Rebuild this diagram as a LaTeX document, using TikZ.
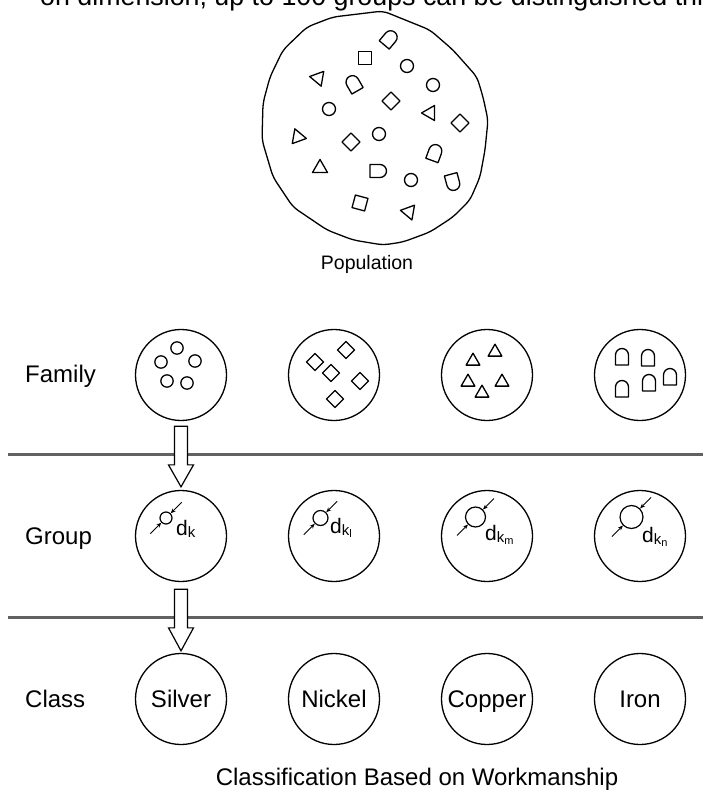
\documentclass[tikz,border=0pt]{standalone}
\usepackage{fontspec}
\setmainfont{Liberation Sans}
\usetikzlibrary{calc,arrows.meta}
\newcommand\myfs[1]{\fontsize{#1}{#1}\selectfont}
\newcommand\dsub[1]{d\raisebox{-2pt}{\myfs{15}k\raisebox{-2.5pt}{\myfs{11}#1}}}
\begin{document}
\begin{tikzpicture}[x=1pt,y=-1pt,line join=round,
  rowcirc/.style={circle,draw,line width=1.3pt,minimum size=91pt,inner sep=0pt,font=\myfs{24},text height=17pt,text depth=0pt},
  rowlabel/.style={anchor=base west,inner sep=0pt,font=\myfs{24}},
  sh/.style={draw,line width=1.3pt},
  sepline/.style={line width=3pt,draw=black!62},
  blockarrow/.style={draw,fill=white,line width=1.2pt,line join=miter},
  dimarrow/.style={line width=1pt,-{Stealth[length=5pt,width=4pt]}},
  smallc/.style={circle,draw,line width=1.2pt,inner sep=0pt},
  pcirc/.pic={\draw[sh] (0,0) circle[radius=6.5];},
  psq/.pic={\draw[sh] (-6.5,-6.5) rectangle (6.5,6.5);},
  pdia/.pic={\draw[sh] (0,-9) -- (9,0) -- (0,9) -- (-9,0) -- cycle;},
  ptri/.pic={\draw[sh] (0,-8.5) -- (7.5,4.5) -- (-7.5,4.5) -- cycle;},
  parch/.pic={\draw[sh] (-6.5,9) -- (-6.5,-1) arc[start angle=180,end angle=360,radius=6.5] -- (6.5,9) -- cycle;},
]
\useasboundingbox (0,0) rectangle (703,794);

% cut-off text at the top
\begin{scope}
\clip (0,0) rectangle (703,794);
\node[anchor=base west,inner sep=0pt,font=\myfs{26.8}] (toptext) at (40,6) {on dimension, up to 100 groups can be distinguished thi};
\end{scope}

% population blob
\draw[line width=1.3pt,rounded corners=6pt] (383,11) -- (430,30) -- (453,50) -- (477,77) -- (483,97) -- (488,120) -- (485,150) -- (480,177) -- (470,200) -- (453,217) -- (430,232) -- (403,242) -- (383,245) -- (353,240) -- (327,230) -- (293,207) -- (273,177) -- (262,140) -- (263,103) -- (270,77) -- (283,50) -- (307,27) -- (333,17) -- (350,15) -- cycle;

\pic[rotate=-40] at (390,38) {parch};
\pic at (365,58) {psq};
\pic at (407,66) {pcirc};
\pic[rotate=80] at (318,78) {ptri};
\pic[rotate=30] at (353,83) {parch};
\pic at (433,85) {pcirc};
\pic at (329,109) {pcirc};
\pic at (391,101) {pdia};
\pic[rotate=90] at (430,113) {ptri};
\pic at (460,123) {pdia};
\pic[rotate=-100] at (298,137) {ptri};
\pic at (351,142) {pdia};
\pic at (379,134) {pcirc};
\pic[rotate=-20] at (435,152) {parch};
\pic at (320,168) {ptri};
\pic[rotate=-90] at (379,171) {parch};
\pic at (411,180) {pcirc};
\pic[rotate=-165] at (453,183) {parch};
\pic[rotate=-15] at (360,203) {psq};
\pic[rotate=-160] at (409,212) {ptri};

\node[font=\myfs{19.5},inner sep=0pt] (poplabel) at (367,264) {Population};

% separator lines
\draw[sepline] (8,454) -- (703,454);
\draw[sepline] (8,617) -- (703,617);

% row labels
\node[rowlabel] (lfam) at (25,382) {Family};
\node[rowlabel] (lgrp) at (25,544) {Group};
\node[rowlabel] (lcls) at (25,707) {Class};

% family row
\node[rowcirc] (fam1) at (181,375) {};
\node[rowcirc] (fam2) at (334,375) {};
\node[rowcirc] (fam3) at (487,375) {};
\node[rowcirc] (fam4) at (640,375) {};

\foreach \dx/\dy in {-4/-27,-20/-13,14/-14,-14/6,6/8}
  \pic[scale=0.95] at ($(fam1.center)+(\dx,\dy)$) {pcirc};
\foreach \dx/\dy in {-19/-13,12/-25,-3/-2,26/6,1/24}
  \pic[scale=0.95] at ($(fam2.center)+(\dx,\dy)$) {pdia};
\foreach \dx/\dy in {-14/-14,8/-23,-19/7,15/7,-5/18}
  \pic[scale=0.92] at ($(fam3.center)+(\dx,\dy)$) {ptri};
\foreach \dx/\dy in {-18/-19,8/-18,-18/13,9/7,30/1}
  \pic at ($(fam4.center)+(\dx,\dy)$) {parch};

% group row
\node[rowcirc] (grp1) at (181,536) {};
\node[rowcirc] (grp2) at (334,536) {};
\node[rowcirc] (grp3) at (487,536) {};
\node[rowcirc] (grp4) at (640,536) {};

\node[smallc,minimum size=12pt] (sc1) at ($(grp1.center)+(-15,-18)$) {};
\node[smallc,minimum size=15pt] (sc2) at ($(grp2.center)+(-13.5,-18)$) {};
\node[smallc,minimum size=20pt] (sc3) at ($(grp3.center)+(-11.5,-19)$) {};
\node[smallc,minimum size=23pt] (sc4) at ($(grp4.center)+(-8.5,-19)$) {};
\foreach \s in {sc1,sc2,sc3,sc4}{
  \draw[dimarrow] ($(\s.north east)+(11,-11)$) -- (\s.north east);
  \draw[dimarrow] ($(\s.south west)+(-11,11)$) -- (\s.south west);
}
\node[anchor=base west,inner sep=0pt,font=\myfs{21}] (dk1) at ($(grp1.center)+(-5,-1)$) {d\raisebox{-2pt}{\myfs{15}k}};
\node[anchor=base west,inner sep=0pt,font=\myfs{21}] (dk2) at ($(grp2.center)+(-4,-3)$) {\dsub{l}};
\node[anchor=base west,inner sep=0pt,font=\myfs{21}] (dk3) at ($(grp3.center)+(-2,4)$) {\dsub{m}};
\node[anchor=base west,inner sep=0pt,font=\myfs{21}] (dk4) at ($(grp4.center)+(2,6)$) {\dsub{n}};

% class row
\node[rowcirc] (cls1) at (181,699) {Silver};
\node[rowcirc] (cls2) at (334,699) {Nickel};
\node[rowcirc] (cls3) at (487,699) {Copper};
\node[rowcirc] (cls4) at (640,699) {Iron};

% block arrows
\draw[blockarrow] ($(fam1.south)+(-6.5,5)$) -- ($(grp1.north)+(-6.5,-25)$) -- ($(grp1.north)+(-12.5,-25)$) -- ($(grp1.north)+(0,-3)$) -- ($(grp1.north)+(12.5,-25)$) -- ($(grp1.north)+(6.5,-25)$) -- ($(fam1.south)+(6.5,5)$) -- cycle;
\draw[blockarrow] ($(grp1.south)+(-6.5,7)$) -- ($(cls1.north)+(-6.5,-25)$) -- ($(cls1.north)+(-12.5,-25)$) -- ($(cls1.north)+(0,-2)$) -- ($(cls1.north)+(12.5,-25)$) -- ($(cls1.north)+(6.5,-25)$) -- ($(grp1.south)+(6.5,7)$) -- cycle;

% caption
\node[anchor=base,inner sep=0pt,font=\myfs{24}] (caption) at (417,785) {Classification Based on Workmanship};
\end{tikzpicture}
\end{document}
